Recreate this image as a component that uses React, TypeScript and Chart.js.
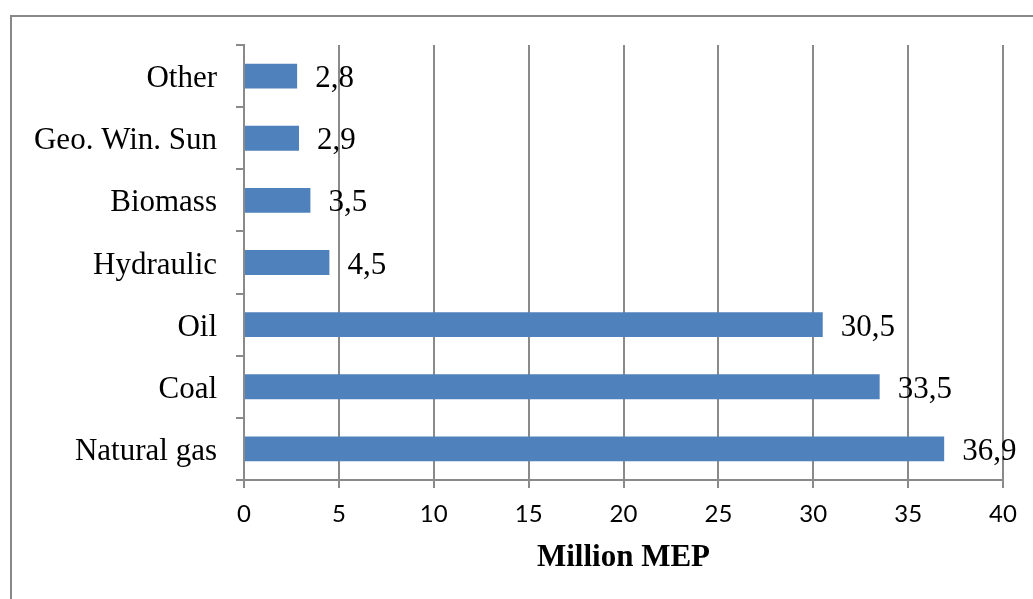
import React, { useEffect, useRef } from "react";
import { Chart, registerables } from "chart.js";

Chart.register(...registerables);

const categories = ["Other", "Geo. Win. Sun", "Biomass", "Hydraulic", "Oil", "Coal", "Natural gas"];
const values = [2.8, 2.9, 3.5, 4.5, 30.5, 33.5, 36.9];
const xTicks = [0, 5, 10, 15, 20, 25, 30, 35, 40];
const axisTitle = "Million MEP";

const GRID = "#8a8a8a";
const SERIF = "'Liberation Serif', 'Times New Roman', serif";

const labelPlugin = {
  id: "barLabels",
  afterDatasetsDraw(chart: any) {
    const ctx = chart.ctx;
    const meta = chart.getDatasetMeta(0);
    ctx.save();
    ctx.font = `31px ${SERIF}`;
    ctx.fillStyle = "#000";
    ctx.textAlign = "left";
    ctx.textBaseline = "middle";
    meta.data.forEach((el: any, i: number) => {
      const txt = String(values[i]).replace(".", ",");
      ctx.fillText(txt, el.x + 18, el.y + 3);
    });
    ctx.restore();
  },
};

export default function App() {
  const ref = useRef<HTMLCanvasElement>(null);
  useEffect(() => {
    if (!ref.current) return;
    const chart = new Chart(ref.current, {
      type: "bar",
      data: {
        labels: categories,
        datasets: [
          {
            data: values,
            backgroundColor: "#4F81BD",
            borderWidth: 0,
            barPercentage: 0.4,
            categoryPercentage: 1,
          },
        ],
      },
      options: {
        indexAxis: "y",
        animation: false,
        responsive: false,
        maintainAspectRatio: false,
        layout: { padding: { top: 45, right: 30, left: 0, bottom: 0 } },
        plugins: {
          legend: { display: false },
          tooltip: { enabled: false },
        },
        scales: {
          x: {
            min: 0,
            max: 40,
            afterBuildTicks: (scale: any) => {
              scale.ticks = xTicks.map((v) => ({ value: v }));
            },
            afterFit: (scale: any) => {
              scale.height = 119;
            },
            grid: {
              color: GRID,
              lineWidth: 2,
              tickLength: 8,
              drawTicks: true,
            },
            border: { color: GRID, width: 2 },
            ticks: {
              color: "#000",
              font: { family: "Lato, 'Open Sans', sans-serif", size: 24 },
              padding: 12,
            },
            title: {
              display: true,
              text: axisTitle,
              color: "#000",
              font: { family: SERIF, size: 31, weight: "bold" },
              padding: { top: 0, bottom: 22 },
            },
          },
          y: {
            afterFit: (scale: any) => {
              scale.width = 244;
            },
            grid: {
              color: GRID,
              lineWidth: 2,
              drawOnChartArea: false,
              tickLength: 8,
              offset: true,
            },
            border: { color: GRID, width: 2 },
            ticks: {
              color: "#000",
              font: { family: SERIF, size: 31 },
              padding: 19,
              labelOffset: 3,
            },
          },
        },
      },
      plugins: [labelPlugin],
    });
    return () => chart.destroy();
  }, []);

  return (
    <div
      style={{
        position: "fixed",
        left: 0,
        top: 0,
        width: 1033,
        height: 599,
        overflow: "hidden",
        background: "#fff",
      }}
    >
      <div
        style={{
          position: "absolute",
          left: 10,
          top: 15,
          width: 1100,
          height: 700,
          borderLeft: "2px solid #888",
          borderTop: "2px solid #888",
        }}
      />
      <canvas
        ref={ref}
        width={1033}
        height={599}
        style={{ position: "absolute", left: 0, top: 0, width: 1033, height: 599 }}
      />
    </div>
  );
}
